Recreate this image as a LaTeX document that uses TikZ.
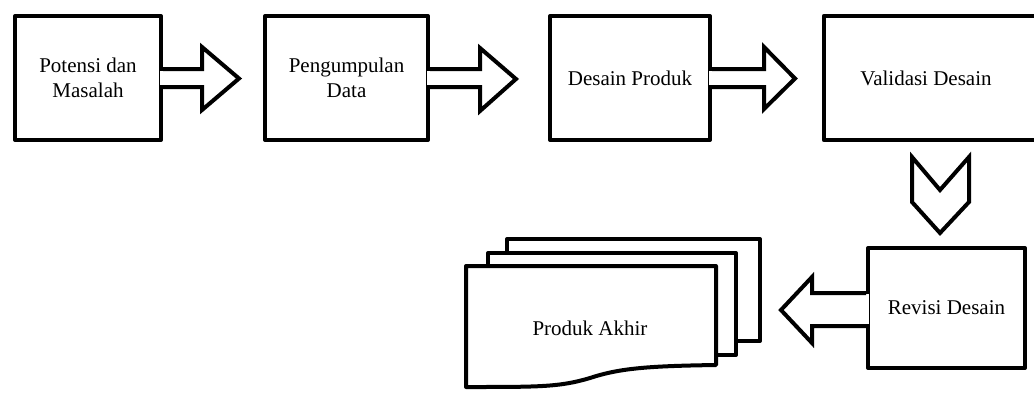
\documentclass[tikz,border=0pt]{standalone}
\usepackage{fontspec}
\setmainfont{Liberation Serif}
\usetikzlibrary{calc}
\tikzset{
  txt/.style={font=\fontsize{21}{25}\selectfont, align=center},
  stepbox/.style={txt, draw, line width=4pt, line join=round, minimum height=124pt, inner sep=0pt},
  outline/.style={draw, line width=4pt, line join=miter},
  docshape/.style={draw, fill=white, line width=4pt, line join=round},
}
\begin{document}
\begin{tikzpicture}[x=1pt,y=-1pt]
\useasboundingbox (0,0) rectangle (1034,392);
% top row of steps
\node[stepbox, minimum width=146pt] (b1) at (88,78) {Potensi dan\\Masalah};
\node[stepbox, minimum width=163pt] (b2) at (346.5,78) {Pengumpulan\\Data};
\node[stepbox, minimum width=160pt] (b3) at (630,78) {Desain Produk};
\node[txt, minimum width=204pt, minimum height=124pt, inner sep=0pt] (b4) at (926,78) {Validasi Desain};
\draw[line width=4pt, line join=round] ($(b4.north east)+(30,0)$) -- (b4.north west) -- (b4.south west) -- ($(b4.south east)+(30,0)$);
% revision step
\node[stepbox, minimum width=157pt, minimum height=120pt] (rv) at (946.5,308) {Revisi Desain};
% final product (stack of documents)
\draw[docshape] (507,239) rectangle (760,341);
\draw[docshape] (488,253) rectangle (736,355);
\draw[docshape] (466,266) -- (716,266) -- (716,365)
  .. controls (650,366) and (620,368) .. (590,378)
  .. controls (560,387) and (540,387) .. (466,387) -- cycle;
\node[txt] (pa) at (590,328) {Produk Akhir};
% block arrows right
\fill[white] ($(b1.east)+(-3,-7)$) rectangle ($(b1.east)+(3,7)$);
\draw[outline] ($(b1.east)+(0,-9)$) -- (202,69) -- (202,47) -- (239,78.5) -- (202,110) -- (202,87) -- ($(b1.east)+(0,9)$);
\fill[white] ($(b2.east)+(-3,-7)$) rectangle ($(b2.east)+(3,7)$);
\draw[outline] ($(b2.east)+(0,-9)$) -- (480,69) -- (480,48) -- (516,79) -- (480,111) -- (480,87) -- ($(b2.east)+(0,9)$);
\fill[white] ($(b3.east)+(-3,-7)$) rectangle ($(b3.east)+(3,7)$);
\draw[outline] ($(b3.east)+(0,-9)$) -- (764,69) -- (764,47) -- (795,78.5) -- (764,109) -- (764,87) -- ($(b3.east)+(0,9)$);
% chevron down
\draw[outline] (912,157) -- (940,190) -- (969,157) -- (969,202) -- (940,233) -- (912,202) -- cycle;
% block arrow left
\fill[white] ($(rv.west)+(-3,-14)$) rectangle ($(rv.west)+(3,16)$);
\draw[outline] ($(rv.west)+(0,-15)$) -- (812,293) -- (812,277) -- (781,310) -- (812,343) -- (812,326) -- ($(rv.west)+(0,18)$);
\end{tikzpicture}
\end{document}
